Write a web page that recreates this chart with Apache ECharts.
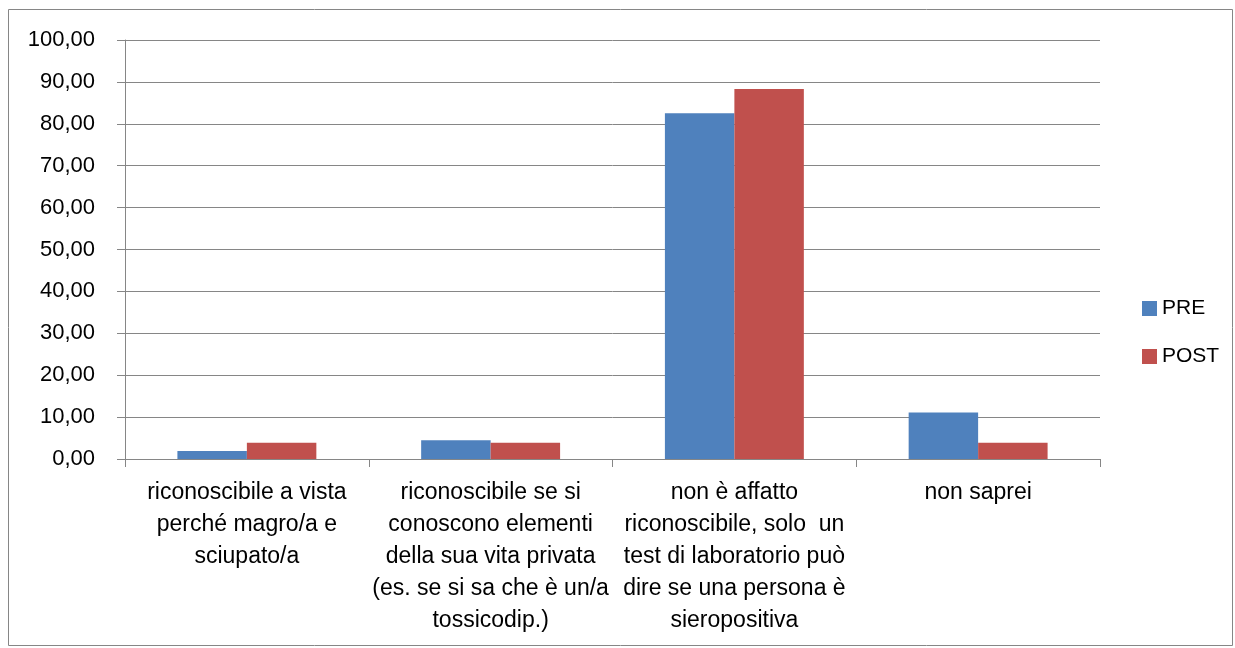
<!DOCTYPE html>
<html>
<head>
<meta charset="utf-8">
<script src="https://cdn.jsdelivr.net/npm/echarts@6/dist/echarts.min.js"></script>
<style>
  html, body { margin: 0; padding: 0; background: #fff; }
  #chart { width: 1235px; height: 648px; }
</style>
</head>
<body>
<div id="chart"></div>
<script>
const categories = [
  'riconoscibile a vista\nperché magro/a e\nsciupato/a',
  'riconoscibile se si\nconoscono elementi\ndella sua vita privata\n(es. se si sa che è un/a\ntossicodip.)',
  'non è affatto\nriconoscibile, solo  un\ntest di laboratorio può\ndire se una persona è\nsieropositiva',
  'non saprei',
]
const preValues = [1.9, 4.5, 82.5, 11.1]
const postValues = [3.9, 3.9, 88.3, 3.9]

const gray = '#868686'
const font = "'Liberation Sans', Arial, sans-serif"

const chart = echarts.init(document.getElementById('chart'))

chart.setOption({
  animation: false,
  textStyle: { fontFamily: font, color: '#000' },
  graphic: [
    {
      type: 'rect',
      shape: { x: 8.5, y: 9.5, width: 1224, height: 636 },
      style: { fill: 'none', stroke: gray, lineWidth: 1 },
      silent: true,
    },
  ],
  legend: {
    data: ['PRE', 'POST'],
    orient: 'vertical',
    left: 1142,
    top: 298,
    padding: 0,
    itemWidth: 15,
    itemHeight: 15,
    itemGap: 27,
    icon: 'rect',
    textStyle: { fontFamily: font, fontSize: 21, color: '#000' },
  },
  grid: { left: 125, right: 135, top: 40, bottom: 189, containLabel: false },
  xAxis: {
    type: 'category',
    data: categories,
    axisLine: { lineStyle: { color: gray, width: 1 } },
    axisTick: { show: true, length: 8, lineStyle: { color: gray } },
    axisLabel: {
      interval: 0,
      margin: 18,
      fontFamily: font,
      fontSize: 23,
      lineHeight: 32,
      color: '#000',
      align: 'center',
    },
  },
  yAxis: {
    type: 'value',
    min: 0,
    max: 100,
    interval: 10,
    axisLine: { show: true, lineStyle: { color: gray, width: 1 } },
    axisTick: { show: true, length: 8, lineStyle: { color: gray } },
    splitLine: { lineStyle: { color: gray, width: 1 } },
    axisLabel: {
      margin: 30,
      fontFamily: font,
      fontSize: 22,
      color: '#000',
      formatter: v => v.toFixed(2).replace('.', ','),
    },
  },
  series: [
    {
      name: 'PRE',
      type: 'bar',
      data: preValues,
      itemStyle: { color: '#4F81BD' },
      barGap: '0%',
      barCategoryGap: '43%',
    },
    {
      name: 'POST',
      type: 'bar',
      data: postValues,
      itemStyle: { color: '#C0504D' },
    },
  ],
})
</script>
</body>
</html>
